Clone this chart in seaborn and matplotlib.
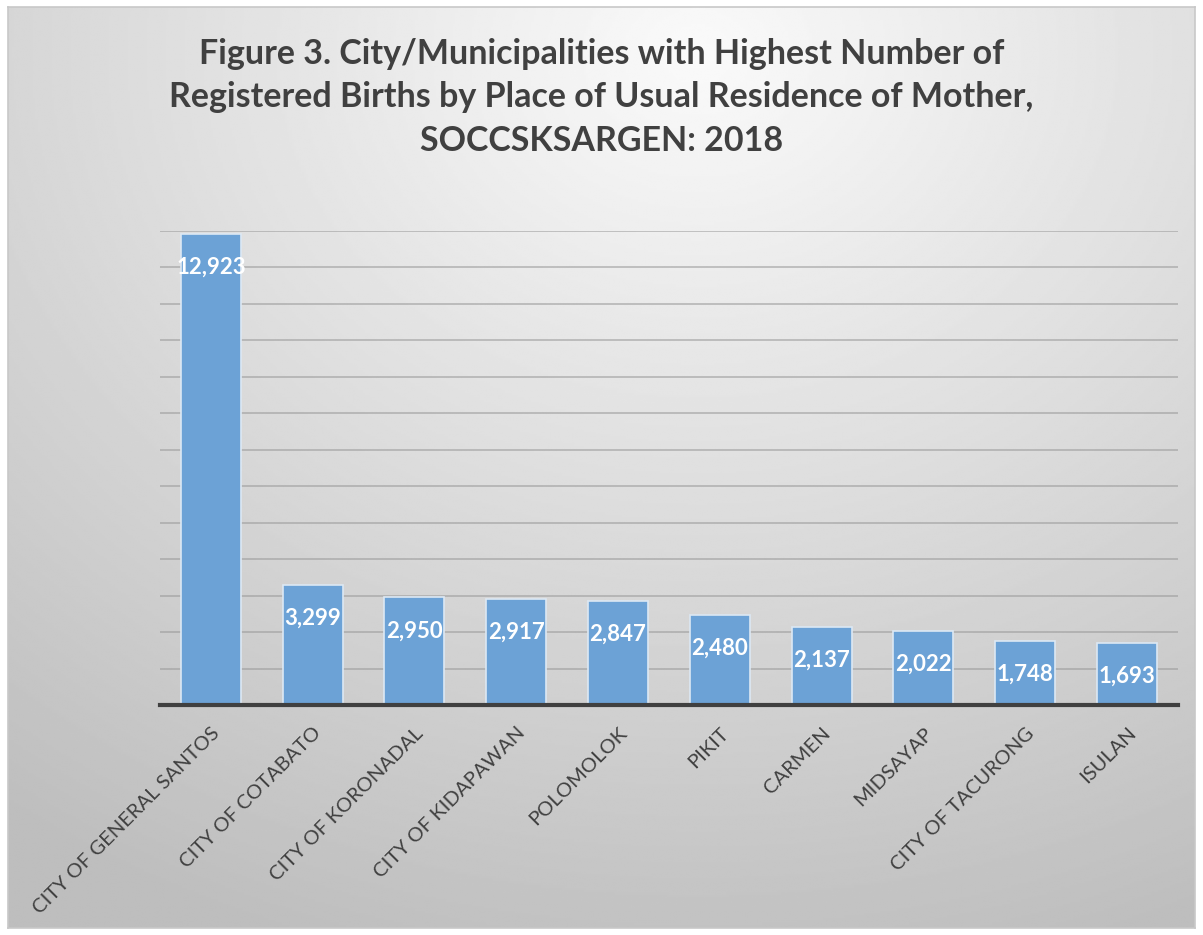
import numpy as np
import pandas as pd
import seaborn as sns
import matplotlib.pyplot as plt

cities = ["CITY OF GENERAL SANTOS", "CITY OF COTABATO", "CITY OF KORONADAL",
          "CITY OF KIDAPAWAN", "POLOMOLOK", "PIKIT", "CARMEN", "MIDSAYAP",
          "CITY OF TACURONG", "ISULAN"]
births = [12923, 3299, 2950, 2917, 2847, 2480, 2137, 2022, 1748, 1693]

df = pd.DataFrame({"city": cities, "births": births})

sns.set_theme(style="white")
plt.rcParams['font.family'] = ['Lato', 'DejaVu Sans']

fig = plt.figure(figsize=(12.03, 9.35), dpi=100)
fig.patch.set_facecolor("white")

# fond en dégradé radial
bg = fig.add_axes([0.007, 0.007, 0.986, 0.985])
h, w = 400, 500
yy, xx = np.mgrid[0:h, 0:w]
d = np.sqrt(((xx / w - 0.58) * 1.0) ** 2 + ((yy / h - 0.05) * 0.95) ** 2)
img = 250 - 62 * np.clip(d, 0, 1.2) / 1.0
img = np.clip(img, 190, 250) / 255.0
bg.imshow(img, cmap="gray", vmin=0, vmax=1, aspect="auto", interpolation="bilinear")
bg.set_xticks([])
bg.set_yticks([])
for s in bg.spines.values():
    s.set_color("#c8c8c8")
    s.set_linewidth(1.2)

ax = fig.add_axes([0.133, 0.246, 0.846, 0.507])
ax.patch.set_alpha(0)
sns.barplot(data=df, x="city", y="births", color="#6ca2d6", width=0.59,
            edgecolor="#dce8f4", linewidth=1.2, saturation=1, ax=ax, zorder=3)

ax.set_ylim(0, 13000)
ax.set_yticks(np.arange(0, 13001, 1000))
ax.yaxis.grid(True, color="#9a9a9a", linewidth=1.1, alpha=0.7, zorder=0)
ax.set_axisbelow(True)
ax.set_yticklabels([])
ax.tick_params(axis="y", length=0)
ax.tick_params(axis="x", length=0, pad=14)
ax.set_xlabel("")
ax.set_ylabel("")
for s in ["top", "right", "left"]:
    ax.spines[s].set_visible(False)
ax.spines["bottom"].set_color("#404040")
ax.spines["bottom"].set_linewidth(3)
ax.spines["bottom"].set_zorder(5)

ax.set_xticks(range(len(cities)))
ax.set_xticklabels(cities, rotation=45, ha="right", rotation_mode="anchor",
                   fontsize=14.5, color="#404040")

for i, v in enumerate(births):
    ax.annotate(f"{v:,}", (i, v), xytext=(0, -24), textcoords="offset points",
                ha="center", va="center", color="white", fontsize=16,
                fontweight="bold", zorder=6)

fig.text(0.5, 0.896,
         "Figure 3. City/Municipalities with Highest Number of\n"
         "Registered Births by Place of Usual Residence of Mother,\n"
         "SOCCSKSARGEN: 2018",
         ha="center", va="center", fontsize=24.5, fontweight="bold",
         color="#404040", linespacing=1.45)

plt.savefig("out.png", dpi=100)
